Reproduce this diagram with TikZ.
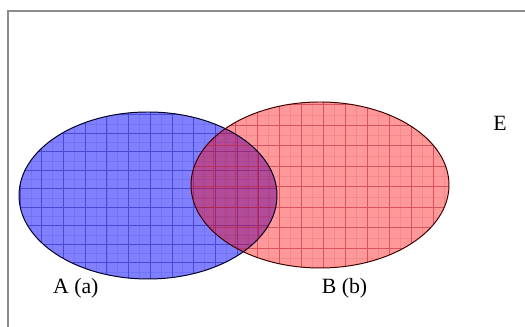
\documentclass[tikz,border=0pt]{standalone}
\usepackage{fontspec}
\setmainfont{Liberation Serif}
\definecolor{fillA}{RGB}{128,128,255}
\definecolor{lineA}{RGB}{60,60,200}
\definecolor{lineB}{RGB}{190,40,60}
\definecolor{frame}{RGB}{140,140,140}
\tikzset{
  setlabel/.style={font=\fontsize{15.5}{17}\selectfont, inner sep=0pt},
  majorA/.style={draw=lineA, line width=0.45pt, opacity=0.75},
  minorA/.style={draw=lineA, line width=0.3pt, opacity=0.2},
  majorB/.style={draw=lineB, line width=0.45pt, opacity=0.55},
  minorB/.style={draw=lineB, line width=0.3pt, opacity=0.15}
}
\begin{document}
\begin{tikzpicture}
\useasboundingbox (0,0) rectangle (13.125,8.175);
\draw[frame, line width=0.8pt] (0.2,0) -- (0.2,7.9) -- (13.125,7.9);
% set A
\fill[fillA] (3.7,3.2875) ellipse [x radius=3.225, y radius=2.0875];
\begin{scope}
\clip (3.7,3.2875) ellipse [x radius=3.225, y radius=2.0875];
\begin{scope}[shift={(1.583,4.3825)}]
\draw[minorA, xstep=0.27125, ystep=0.23125] (-2,-5) grid (6,1.5);
\draw[majorA, xstep=0.5425, ystep=0.4625] (-2,-5) grid (6,1.5);
\end{scope}
\end{scope}
% set B
\fill[red, opacity=0.4] (8.0,3.55) ellipse [x radius=3.225, y radius=2.075];
\begin{scope}
\clip (8.0,3.55) ellipse [x radius=3.225, y radius=2.075];
\begin{scope}[shift={(8.625,5.05)}]
\draw[minorB, xstep=0.275, ystep=0.25625] (-4,-5) grid (3,1);
\draw[majorB, xstep=0.55, ystep=0.5125] (-4,-5) grid (3,1);
\end{scope}
\end{scope}
\draw[black!85!blue, line width=0.7pt] (3.7,3.2875) ellipse [x radius=3.225, y radius=2.0875];
\draw[black!75!red, line width=0.7pt] (8.0,3.55) ellipse [x radius=3.225, y radius=2.075];
% labels
\node[setlabel] (labA) at (1.895,0.975) {A (a)};
\node[setlabel] (labB) at (8.6125,0.975) {B (b)};
\node[setlabel] (labE) at (12.5,5.1) {E};
\end{tikzpicture}
\end{document}
